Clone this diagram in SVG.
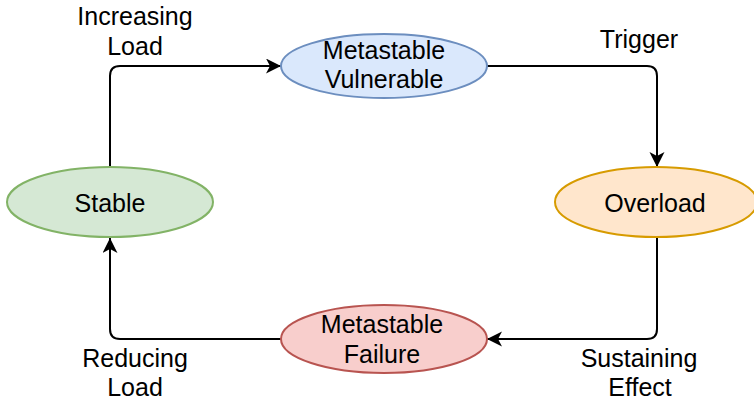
<svg xmlns="http://www.w3.org/2000/svg" width="754" height="401" viewBox="0 0 754 401">
  <style>
    .lbl { font-family: "Liberation Sans", Arial, sans-serif; font-size: 25px; fill: #000; text-anchor: middle; }
    .edge { fill: none; stroke: #000; stroke-width: 2; marker-end: url(#arrow); }
    .node { stroke-width: 2; }
  </style>
  <defs>
    <marker id="arrow" markerUnits="userSpaceOnUse" markerWidth="16" markerHeight="16" refX="15" refY="7.5" orient="auto">
      <path d="M0,0 L15,7.5 L0,15 L4,7.5 Z" fill="#000"/>
    </marker>
  </defs>

  <rect width="754" height="401" fill="#fff"/>

  <g id="connectors">
    <path class="edge" d="M110,167 V76 Q110,66 120,66 H281"/>
    <path class="edge" d="M487,66 H647 Q657,66 657,76 V167"/>
    <path class="edge" d="M657,237 V329 Q657,339 647,339 H487"/>
    <path class="edge" d="M281,339 H120 Q110,339 110,329 V238"/>
    <text class="lbl" x="135" y="25">Increasing</text>
    <text class="lbl" x="135" y="55">Load</text>
    <text class="lbl" x="639" y="48">Trigger</text>
    <text class="lbl" x="639" y="367">Sustaining</text>
    <text class="lbl" x="640" y="396">Effect</text>
    <text class="lbl" x="135" y="367">Reducing</text>
    <text class="lbl" x="135" y="396">Load</text>
  </g>

  <g id="metastable-vulnerable">
    <ellipse class="node" cx="384" cy="66" rx="103" ry="32" fill="#dae8fc" stroke="#6c8ebf"/>
    <text class="lbl" x="384" y="59">Metastable</text>
    <text class="lbl" x="384" y="88">Vulnerable</text>
  </g>

  <g id="overload">
    <ellipse class="node" cx="656" cy="202" rx="101" ry="35" fill="#ffe6cc" stroke="#d79b00"/>
    <text class="lbl" x="655" y="212">Overload</text>
  </g>

  <g id="stable">
    <ellipse class="node" cx="110" cy="202" rx="103" ry="35" fill="#d5e8d4" stroke="#82b366"/>
    <text class="lbl" x="110" y="212">Stable</text>
  </g>

  <g id="metastable-failure">
    <ellipse class="node" cx="384" cy="339" rx="103" ry="34" fill="#f8cecc" stroke="#b85450"/>
    <text class="lbl" x="382" y="333">Metastable</text>
    <text class="lbl" x="382" y="363">Failure</text>
  </g>
</svg>
